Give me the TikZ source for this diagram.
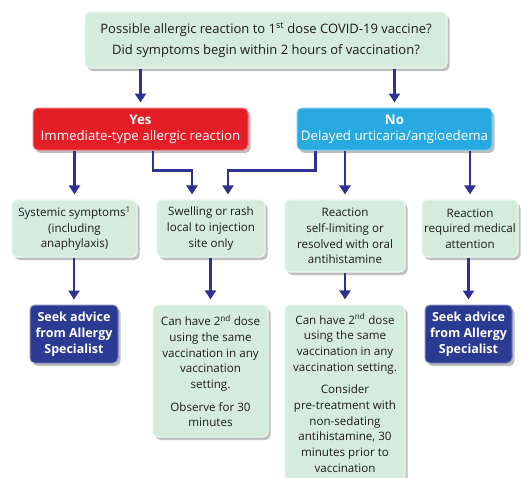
\documentclass[tikz,border=0pt]{standalone}
\usepackage{fontspec}
\setmainfont{Open Sans}
\usetikzlibrary{arrows.meta,shadows}
\definecolor{boxgreen}{HTML}{D5EBDD}
\definecolor{yesred}{HTML}{E31E26}
\definecolor{noblue}{HTML}{29A9E1}
\definecolor{seekblue}{HTML}{2B3A92}
\definecolor{arrowblue}{HTML}{2E3192}
\definecolor{txtgray}{HTML}{1E1B1C}
\begin{document}
\begin{tikzpicture}[x=1pt,y=-1pt,
    every node/.style={font=\fontsize{11.6}{15.7}\selectfont,align=center,text=txtgray},
    shbox/.style={rounded corners=5pt,inner sep=1pt,
      drop shadow={shadow xshift=2.5pt,shadow yshift=-3pt,fill=black!50,opacity=.5}},
    g/.style={shbox,fill=boxgreen,draw=white!55!boxgreen,line width=1.2pt},
    yesbox/.style={shbox,fill=yesred,draw=white!40!yesred,line width=1pt,text=white,
      font=\fontsize{13.3}{16}\selectfont},
    nobox/.style={shbox,fill=noblue,draw=white!40!noblue,line width=1pt,text=white,
      font=\fontsize{13.3}{16}\selectfont},
    seek/.style={shbox,fill=seekblue,draw=white!40!seekblue,line width=1pt,text=white,
      font=\fontsize{12.5}{16}\selectfont\bfseries},
    arr/.style={-{Triangle[width=11pt,length=9pt]},line width=2.5pt,draw=arrowblue,shorten >=5pt}]
  \useasboundingbox (0,0) rectangle (526,477);
  \node[g,minimum width=362pt,minimum height=56pt,font=\fontsize{13}{21}\selectfont] (top) at (266,40)
    {Possible allergic reaction to 1\textsuperscript{st} dose COVID-19 vaccine?\\Did symptoms begin within 2 hours of vaccination?};
  \node[yesbox,minimum width=215pt,minimum height=42pt] (yes) at (140.5,129)
    {\textbf{Yes}\\Immediate-type allergic reaction};
  \node[nobox,minimum width=195pt,minimum height=42pt] (no) at (394.5,129)
    {\textbf{No}\\Delayed urticaria/angioedema};
  \draw[arr] (top.south -| yes.north) -- (yes.north);
  \draw[arr] (top.south -| no.north) -- (no.north);
  \node[g,minimum width=125pt,minimum height=57pt] (sys) at (74.5,228.5)
    {Systemic symptoms\textsuperscript{1}\\(including\\anaphylaxis)};
  \node[g,minimum width=108pt,minimum height=57pt] (swell) at (211,228.5)
    {Swelling or rash\\local to injection\\site only};
  \node[g,minimum width=120pt,minimum height=72pt] (selflim) at (345,236)
    {Reaction\\self-limiting or\\resolved with oral\\antihistamine};
  \node[g,minimum width=96pt,minimum height=57pt] (medical) at (470,228.5)
    {Reaction\\required medical\\attention};
  \draw[arr] (yes.south -| sys.north) -- (sys.north);
  \draw[arr] ([xshift=12.5pt]yes.south) -- ++(0,20) -| ([xshift=-19pt]swell.north);
  \draw[arr] ([xshift=19pt]no.south west) -- ++(0,20) -| ([xshift=17pt]swell.north);
  \draw[arr] (no.south -| selflim.north) -- (selflim.north);
  \draw[arr] (no.south -| medical.north) -- (medical.north);
  \node[seek,minimum width=88pt,minimum height=58pt] (seek1) at (74,334)
    {Seek advice\\from Allergy\\Specialist};
  \node[g,minimum width=115pt,minimum height=132pt] (dose1) at (210.5,371)
    {Can have 2\textsuperscript{nd} dose\\using the same\\vaccination in any\\vaccination\\setting.\\[7pt]Observe for 30\\minutes};
  \node[g,minimum width=120pt,minimum height=176pt] (dose2) at (345,393)
    {Can have 2\textsuperscript{nd} dose\\using the same\\vaccination in any\\vaccination setting.\\[7pt]Consider\\pre-treatment with\\non-sedating\\antihistamine, 30\\minutes prior to\\vaccination};
  \node[seek,minimum width=87pt,minimum height=58pt] (seek2) at (468.5,334)
    {Seek advice\\from Allergy\\Specialist};
  \draw[arr] (sys.south -| seek1.north) -- (seek1.north);
  \draw[arr] (swell.south -| dose1.north) -- (dose1.north);
  \draw[arr] (selflim.south) -- (dose2.north);
  \draw[arr] (medical.south -| seek2.north) -- (seek2.north);
\end{tikzpicture}
\end{document}
